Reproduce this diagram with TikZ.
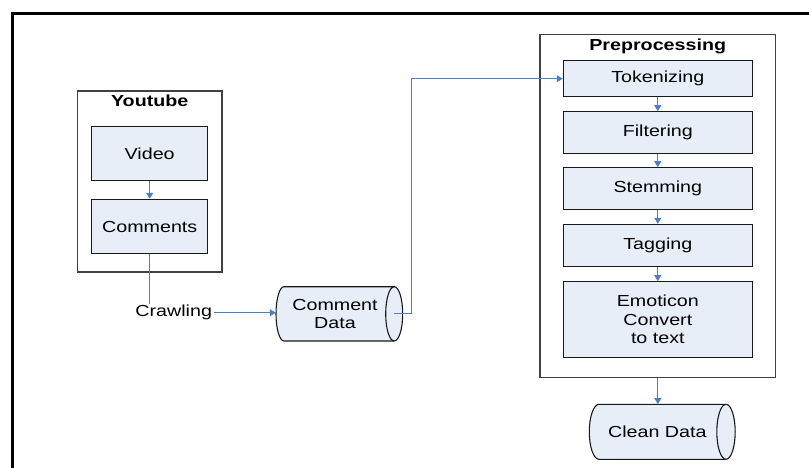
\documentclass[tikz,border=0pt]{standalone}
\usepackage{fontspec}
\setmainfont[FakeStretch=1.23]{Liberation Sans}
\usetikzlibrary{arrows.meta}
\definecolor{boxfill}{HTML}{E8EEF8}
\definecolor{conn}{HTML}{4A7EC8}
\definecolor{grpline}{HTML}{404040}
\begin{document}
\begin{tikzpicture}[x=1pt,y=-1pt,
  every node/.style={font=\fontsize{16}{18.5}\selectfont, align=center},
  procbox/.style={draw=black!90, line width=1.1pt, fill=boxfill, inner sep=0pt},
  grpbox/.style={draw=grpline, line width=1.3pt, inner sep=0pt},
  grptitle/.style={font=\fontsize{16}{18.5}\selectfont\bfseries, inner sep=0pt},
  cyltext/.style={inner sep=0pt},
  cylshape/.style={draw=black!90, line width=1.1pt, fill=boxfill},
  plainlabel/.style={inner sep=1.5pt},
  flow/.style={draw=conn, line width=1pt, -{Triangle[length=6pt,width=7pt]}},
  flowline/.style={draw=conn, line width=1pt}
]
\useasboundingbox (0,0) rectangle (809,467);
% outer frame
\draw[line width=3pt] (12.5,480) -- (12.5,13.8) -- (820,13.8);

% group boxes
\node[grpbox, minimum width=144.7pt, minimum height=181pt] (yt) at (149.7,181.5) {};
\node[grptitle] (yttitle) at (149.7,101) {Youtube};
\node[grpbox, minimum width=235.7pt, minimum height=343.4pt] (pre) at (657.85,206) {};
\node[grptitle] (pretitle) at (657.7,46) {Preprocessing};

% youtube inner boxes
\node[procbox, minimum width=116pt, minimum height=54pt] (video) at (149.7,153.7) {Video};
\node[procbox, minimum width=116pt, minimum height=54.4pt] (comments) at (149.7,226.5) {Comments};

% preprocessing steps
\node[procbox, minimum width=189pt, minimum height=36pt] (tok) at (657.8,78.7) {Tokenizing};
\node[procbox, minimum width=189pt, minimum height=41.6pt] (fil) at (657.8,132.5) {Filtering};
\node[procbox, minimum width=189pt, minimum height=41.6pt] (stem) at (657.8,188.5) {Stemming};
\node[procbox, minimum width=189pt, minimum height=41.7pt] (tag) at (657.8,245.2) {Tagging};
\node[procbox, minimum width=189pt, minimum height=75.6pt] (emo) at (657.8,319.5) {Emoticon\\Convert\\to text};

% Comment Data cylinder
\path[cylshape] (394.2,286.7) -- (284,286.7)
  arc[start angle=270, end angle=90, x radius=8, y radius=27.15]
  -- (394.2,341)
  arc[start angle=90, end angle=-90, x radius=8.5, y radius=27.15] -- cycle;
\draw[black!90, line width=1.1pt] (394.2,286.7)
  arc[start angle=270, end angle=90, x radius=8.5, y radius=27.15];
\node[cyltext, minimum width=118pt, minimum height=54.3pt] (cdata) at (335,313.85) {Comment\\Data};

% Clean Data cylinder
\path[cylshape] (726,404.3) -- (599,404.3)
  arc[start angle=270, end angle=90, x radius=9.7, y radius=27.5]
  -- (726,459.3)
  arc[start angle=90, end angle=-90, x radius=9.2, y radius=27.5] -- cycle;
\draw[black!90, line width=1.1pt] (726,404.3)
  arc[start angle=270, end angle=90, x radius=9.2, y radius=27.5];
\node[cyltext, minimum width=120pt, minimum height=55pt] (clean) at (657.3,431.8) {Clean Data};

% crawling label
\node[plainlabel] (crawl) at (173.7,312.7) {Crawling};

% connectors
\draw[flow] (video) -- (comments);
\draw[flowline] (comments.south) -- (comments.south |- crawl.north);
\draw[flow] (crawl.east) -- (crawl.east -| cdata.west);
\coordinate (bend) at (411.7,313.85);
\draw[flow] (cdata.east) -- (bend) |- (tok.west);
\draw[flow] (tok) -- (fil);
\draw[flow] (fil) -- (stem);
\draw[flow] (stem) -- (tag);
\draw[flow] (tag) -- (emo);
\draw[flow] (pre.south) -- (pre.south |- clean.north);
\end{tikzpicture}
\end{document}
